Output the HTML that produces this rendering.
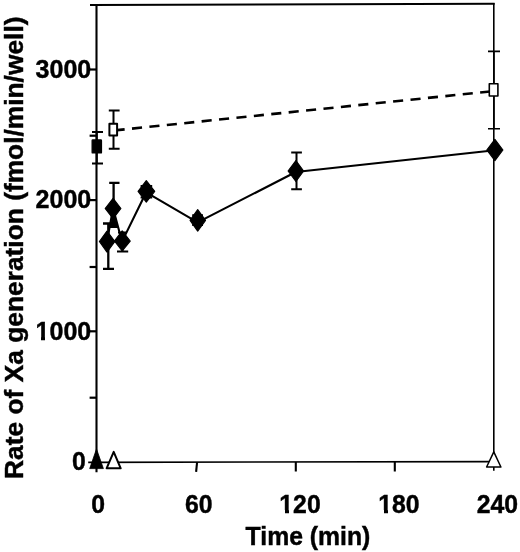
<!DOCTYPE html>
<html>
<head>
<meta charset="utf-8">
<title>Rate of Xa generation</title>
<style>
html,body{margin:0;padding:0;background:#fff;}
body{width:520px;height:552px;overflow:hidden;}
svg{display:block;}
text{font-family:"Liberation Sans",Arial,sans-serif;font-weight:bold;fill:#000;stroke:#000;stroke-width:0.45;font-size:26.5px;}
</style>
</head>
<body>
<svg width="520" height="552" viewBox="0 0 520 552">
<rect x="0" y="0" width="520" height="552" fill="#fff"/>

<!-- frame -->
<g stroke="#000" stroke-width="2.1" fill="none" stroke-linecap="butt">
  <line x1="96.5" y1="4" x2="96.5" y2="472.2"/>
  <line x1="90" y1="4.9" x2="494.6" y2="3.7" stroke-width="2"/>
  <line x1="493.8" y1="3" x2="493.8" y2="470.8" stroke-width="1.6"/>
  <line x1="88.2" y1="462.4" x2="494" y2="461.6" stroke-width="1.6"/>
</g>
<!-- y ticks -->
<g stroke="#000" stroke-width="2.2" fill="none">
  <line x1="88" y1="69.5" x2="96.5" y2="69.5"/>
  <line x1="88" y1="200.1" x2="96.5" y2="200.1"/>
  <line x1="88" y1="331.3" x2="96.5" y2="331.3"/>
  <line x1="89.6" y1="135.7" x2="96.5" y2="135.7"/>
  <line x1="89.6" y1="267" x2="96.5" y2="267"/>
  <line x1="89.6" y1="397.7" x2="96.5" y2="397.7"/>
</g>
<!-- x ticks -->
<g stroke="#000" stroke-width="2.1" fill="none">
  <line x1="197.1" y1="462" x2="196.1" y2="471.8"/>
  <line x1="295.8" y1="462" x2="295.8" y2="471.5"/>
  <line x1="394.8" y1="462" x2="394.8" y2="471.5"/>
</g>

<!-- y labels -->
<g text-anchor="end">
  <text transform="translate(91.3 78) scale(0.945 1)">3000</text>
  <text transform="translate(91.3 207.9) scale(0.945 1)">2000</text>
  <text transform="translate(91.3 339.7) scale(0.945 1)">1000</text>
  <text transform="translate(85.8 470.1) scale(0.935 1)">0</text>
</g>
<!-- x labels -->
<g text-anchor="middle">
  <text transform="translate(98.2 513.4) scale(0.935 1)">0</text>
  <text transform="translate(198.8 513.4) scale(0.935 1)">60</text>
  <text transform="translate(300 512.7) scale(0.935 1)">120</text>
  <text transform="translate(398.8 512.5) scale(0.935 1)">180</text>
  <text transform="translate(497.3 512.5) scale(0.935 1)">240</text>
</g>
<text transform="translate(245.6 545.2) scale(0.935 1)">Time (min)</text>
<text transform="translate(23.4 478.9) rotate(-90) scale(0.9945 0.945)">Rate of Xa generation (fmol/min/well)</text>

<!-- trim the hinted base serif of the digit 1 so it reads like the plain Helvetica-style 1 of the original -->
<g fill="#fff" stroke="none">
  <rect x="36" y="337" width="5" height="4.2"/><rect x="45" y="337" width="4.2" height="4.2"/>
  <rect x="280" y="510" width="5" height="4.2"/><rect x="289" y="510" width="4" height="4.2"/>
  <rect x="379" y="510" width="5" height="4.2"/><rect x="388" y="510" width="4" height="4.2"/>
</g>

<!-- dashed series -->
<line x1="113.5" y1="130.5" x2="493.6" y2="91.1" stroke="#000" stroke-width="2.6" stroke-dasharray="10.1 7.4" stroke-dashoffset="-1.1"/>

<!-- solid series line -->
<polyline points="106.9,241.5 113.1,208.5 122,241.6 146.2,192.3 197.6,222.4 295.8,172 494.9,150.2" fill="none" stroke="#000" stroke-width="2.1" stroke-linejoin="round"/>

<!-- error bars -->
<g stroke="#000" stroke-width="2" fill="none">
  <!-- filled square -->
  <path d="M96.8 132V163.4M92 132H103M92 163.4H103"/>
  <!-- open square t=10 -->
  <path d="M113.5 110.5V148.8M108.8 110.5H119.6M108.8 148.8H119.6"/>
  <!-- open square t=240 -->
  <path d="M493.9 51.4V128.8M488 51.4H500M488 128.8H500" stroke-width="1.6"/>
  <!-- diamond 1 -->
  <path d="M108.3 223.5V268.8M103 223.5H113.5M103 268.8H114" stroke-width="2.3"/>
  <!-- diamond 2 -->
  <path d="M113.6 182.8V227M109.2 182.8H119.5M109.5 226.8H118" stroke-width="2.3"/>
  <!-- diamond 3 -->
  <path d="M122.5 232V251.4M118 232.5H127M117 251.6H128.2"/>
  <!-- diamond 4 -->
  <path d="M146.2 186V197.6M140.6 186H152.2M140.6 197.6H152.2"/>
  <!-- diamond 5 -->
  <path d="M197.6 215.3V225M192.2 215.3H203M192.2 225H203"/>
  <!-- diamond 6 -->
  <path d="M296.5 152.5V189.2M291.2 152.5H301.9M291.2 189.2H301.9"/>
</g>

<!-- markers -->
<g fill="#000" stroke="#000" stroke-width="1.2" stroke-linejoin="round">
  <!-- filled square -->
  <rect x="92.1" y="139.9" width="9.4" height="13.1" rx="0.6"/>
  <!-- filler between converging lines under diamond 2 -->
  <polygon points="113.1,210 110.2,226.6 117.6,226.6" stroke="none"/>
  <!-- diamonds -->
  <polygon points="99.4,241.5 107,231.1 114.9,241.5 107,252.1"/>
  <polygon points="105.2,208.5 113.1,198.4 120.9,208.5 113.1,218.7"/>
  <polygon points="114.4,241 122.2,230.9 130.2,241 122.2,250.8"/>
  <polygon points="138.1,191.3 146.3,180.7 154.7,191.3 146.3,202.1"/>
  <polygon points="190.1,220.3 197.7,209.7 205.5,220.3 197.7,231.1"/>
  <polygon points="288.1,171 295.9,160.6 303.6,171 295.9,181.5"/>
  <polygon points="486.8,150 494.9,139.4 502.9,150 494.9,160.6"/>
  <!-- filled triangle -->
  <polygon points="96.5,449 103.4,468.6 89.7,468.6" stroke-width="0.8"/>
</g>
<g fill="#fff" stroke="#000" stroke-width="2" stroke-linejoin="round">
  <!-- open squares -->
  <rect x="109.4" y="123.8" width="7.7" height="11.8"/>
  <rect x="489.3" y="83.8" width="8.6" height="12.2" stroke-width="1.6"/>
  <!-- open triangles -->
  <polygon points="113.7,451.9 120.7,468.3 106.6,468.3"/>
  <polygon points="493.8,451.9 500.9,467 486.6,467" stroke-width="1.5"/>
</g>
</svg>
</body>
</html>
